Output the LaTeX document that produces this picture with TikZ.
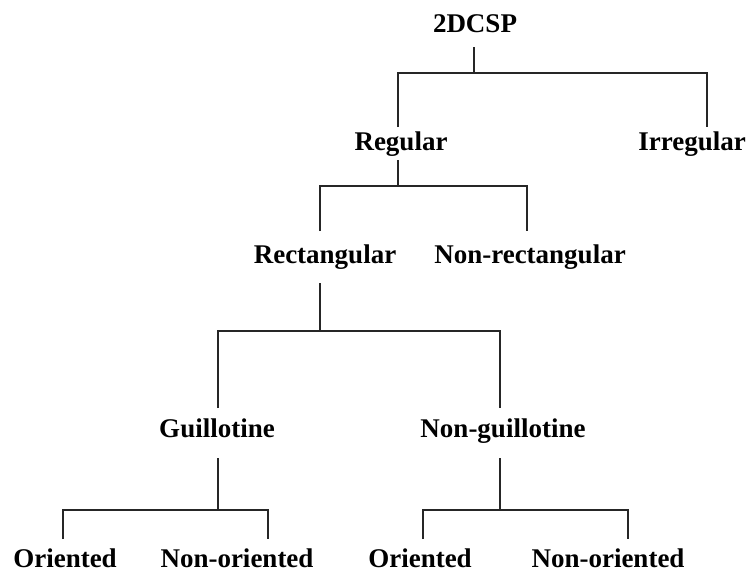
\documentclass[tikz,border=0pt]{standalone}
\usepackage{fontspec}
\setmainfont{Liberation Serif}
\usetikzlibrary{positioning}
\tikzstyle{term} = [anchor=base, inner sep=1pt, text=black, font=\bfseries\fontsize{13.5}{16}\selectfont]
\tikzstyle{branch} = [line width=0.9pt, draw=black!85]

\begin{document}
\begin{tikzpicture}[x=0.5pt, y=-0.5pt]
      \useasboundingbox (0,0) rectangle (748,574);

      \node[term] (root) at (475,32) {2DCSP};
      \node[term] (reg) at (401,150) {Regular};
      \node[term] (irreg) at (692,150) {Irregular};
      \node[term] (rect) at (325,263) {Rectangular};
      \node[term] (nonrect) at (530,263) {Non-rectangular};
      \node[term] (guil) at (217,437) {Guillotine};
      \node[term] (nonguil) at (503,437) {Non-guillotine};
      \node[term] (guilor) at (65,567) {Oriented};
      \node[term] (guilnor) at (237,567) {Non-oriented};
      \node[term] (ngor) at (420,567) {Oriented};
      \node[term] (ngnor) at (608,567) {Non-oriented};

      % fork points
      \coordinate (root-s) at (474,47);  \coordinate (root-j) at (474,73);
      \coordinate (reg-n) at (398,127);  \coordinate (irreg-n) at (707,127);
      \coordinate (reg-s) at (398,160);  \coordinate (reg-j) at (398,186);
      \coordinate (rect-n) at (320,231); \coordinate (nonrect-n) at (527,231);
      \coordinate (rect-s) at (320,283); \coordinate (rect-j) at (320,331);
      \coordinate (guil-n) at (218,408); \coordinate (nonguil-n) at (500,408);
      \coordinate (guil-s) at (218,458); \coordinate (guil-j) at (218,510);
      \coordinate (guilor-n) at (63,539); \coordinate (guilnor-n) at (268,539);
      \coordinate (nonguil-s) at (500,458); \coordinate (nonguil-j) at (500,510);
      \coordinate (ngor-n) at (423,539); \coordinate (ngnor-n) at (628,539);

      \draw[branch] (root-s) -- (root-j);
      \draw[branch] (reg-n) |- (root-j) -| (irreg-n);
      \draw[branch] (reg-s) -- (reg-j);
      \draw[branch] (rect-n) |- (reg-j) -| (nonrect-n);
      \draw[branch] (rect-s) -- (rect-j);
      \draw[branch] (guil-n) |- (rect-j) -| (nonguil-n);
      \draw[branch] (guil-s) -- (guil-j);
      \draw[branch] (guilor-n) |- (guil-j) -| (guilnor-n);
      \draw[branch] (nonguil-s) -- (nonguil-j);
      \draw[branch] (ngor-n) |- (nonguil-j) -| (ngnor-n);
    \end{tikzpicture}
\end{document}
